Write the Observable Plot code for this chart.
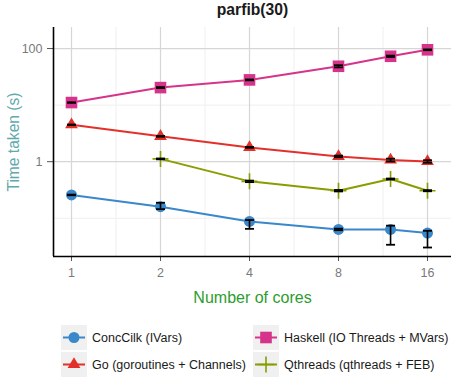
<!DOCTYPE html>
<html><head><meta charset="utf-8">
<script src="https://cdn.jsdelivr.net/npm/d3@7"></script>
<script src="https://cdn.jsdelivr.net/npm/@observablehq/plot@0.6"></script>
<style>
body{margin:0;background:#fff;font-family:"Liberation Sans",Arial,Helvetica,sans-serif;}
#wrap{position:relative;width:451px;height:378px;overflow:hidden;background:#fff;}
#chart{position:absolute;left:0;top:20px;}
.t{position:absolute;white-space:nowrap;}
#title{left:53px;width:399px;top:0px;text-align:center;font-weight:bold;font-size:15.7px;color:#1a1a1a;line-height:20px;}
#xt{left:53px;width:399px;top:288px;text-align:center;font-size:16px;color:#2e9c2e;line-height:20px;}
#yt{left:14px;top:141.5px;font-size:15.6px;color:#62a9ad;line-height:20px;transform:translate(-50%,-50%) rotate(-90deg);}
.lk{position:absolute;width:26px;height:25px;background:#f0f0f0;}
.lt{position:absolute;font-size:12.5px;color:#1a1a1a;line-height:16px;white-space:nowrap;}
</style></head><body><div id="wrap">
<div id="chart"></div>
<div class="t" id="title">parfib(30)</div>
<div class="t" id="xt">Number of cores</div>
<div class="t" id="yt">Time taken (s)</div>
</div>
<script>
// ---- data ----
const cores = [1, 2, 4, 8, 12, 16];
const seriesNames = ["ConcCilk (IVars)", "Go (goroutines + Channels)", "Haskell (IO Threads + MVars)", "Qthreads (qthreads + FEB)"];
const seriesColors = ["#3a88c9", "#e3302a", "#d6338a", "#8a9c00"];
const cilk     = [0.258, 0.160, 0.088, 0.0634, 0.0634, 0.0547];
const cilkLow  = [0.255, 0.145, 0.065, 0.0615, 0.034, 0.0304];
const cilkHigh = [0.262, 0.188, 0.093, 0.0655, 0.074, 0.060];
const go       = [4.50, 2.81, 1.79, 1.24, 1.07, 1.01];
const goLow    = [4.46, 2.76, 1.76, 1.20, 1.01, 0.96];
const goHigh   = [4.54, 2.86, 1.82, 1.28, 1.13, 1.06];
const haskell     = [11.1, 20.4, 27.9, 48.6, 73, 95];
const haskellLow  = [11.0, 20.0, 27.4, 46.5, 71, 93.5];
const haskellHigh = [11.2, 20.8, 28.4, 50.7, 75, 96.5];
const qth     = [null, 1.12, 0.449, 0.307, 0.494, 0.307];
const qthLow  = [null, 1.10, 0.435, 0.298, 0.484, 0.300];
const qthHigh = [null, 1.14, 0.463, 0.316, 0.504, 0.314];
const xTicks = [1, 2, 4, 8, 16];
const xMinor = [Math.SQRT2, 2 * Math.SQRT2, 4 * Math.SQRT2, 8 * Math.SQRT2];
const yTicks = [1, 100];
const yMinor = [0.1, 10];
const xDomain = [Math.pow(2, -18 / 89), Math.pow(2, 4 + 24 / 89)];
const yDomain = [Math.pow(10, -1.676), Math.pow(10, 2.372)];

// ---- symbols ----
const symCircle = {draw(c){ c.moveTo(5.5, 0); c.arc(0, 0, 5.5, 0, 2 * Math.PI); }};
const symTriangle = {draw(c){ c.moveTo(0, -7.2); c.lineTo(6.4, 3.6); c.lineTo(-6.4, 3.6); c.closePath(); }};
const symSquare = {draw(c){ c.rect(-5.8, -5.8, 11.6, 11.6); }};
const symPlus = {draw(c){ c.moveTo(-8, 0); c.lineTo(8, 0); c.moveTo(0, -8); c.lineTo(0, 8); }};
const symCap = {draw(c){ c.moveTo(-4.5, 0); c.lineTo(4.5, 0); }};

const series = [
  {vals: cilk, lo: cilkLow, hi: cilkHigh, sym: symCircle, filled: true},
  {vals: go, lo: goLow, hi: goHigh, sym: symTriangle, filled: true},
  {vals: haskell, lo: haskellLow, hi: haskellHigh, sym: symSquare, filled: true},
  {vals: qth, lo: qthLow, hi: qthHigh, sym: symPlus, filled: false}
].map((s, k) => ({...s, name: seriesNames[k], color: seriesColors[k],
  rows: cores.map((c, i) => ({cores: c, time: s.vals[i], low: s.lo[i], high: s.hi[i]})).filter(r => r.time != null)}));

const marks = [
  Plot.ruleX(xMinor, {stroke: "#efefef", strokeWidth: 1}),
  Plot.ruleY(yMinor, {stroke: "#efefef", strokeWidth: 1}),
  Plot.ruleX(xTicks, {stroke: "#d6d6d6", strokeWidth: 1.2}),
  Plot.ruleY(yTicks, {stroke: "#d6d6d6", strokeWidth: 1.2})
];
for (const s of series) {
  marks.push(Plot.line(s.rows, {x: "cores", y: "time", stroke: s.color, strokeWidth: 2}));
}
for (const s of series) {
  marks.push(Plot.dot(s.rows, s.filled
    ? {x: "cores", y: "time", symbol: s.sym, fill: s.color, stroke: "none", r: 5}
    : {x: "cores", y: "time", symbol: s.sym, fill: "none", stroke: s.color, strokeWidth: 1.6, r: 5}));
}
for (const s of series) {
  marks.push(Plot.ruleX(s.rows, {x: "cores", y1: "low", y2: "high", stroke: "#000", strokeWidth: 1.6}));
  marks.push(Plot.dot(s.rows, {x: "cores", y: "low", symbol: symCap, fill: "none", stroke: "#000", strokeWidth: 1.8, r: 5}));
  marks.push(Plot.dot(s.rows, {x: "cores", y: "high", symbol: symCap, fill: "none", stroke: "#000", strokeWidth: 1.8, r: 5}));
}
marks.push(
  Plot.axisX(xTicks, {tickSize: 5, tickPadding: 7, tickFormat: d => String(d), stroke: "#555", fill: "#7a7a7a", fontSize: 12.5, label: null}),
  Plot.axisY(yTicks, {tickSize: 6, tickPadding: 5, tickFormat: d => String(d), stroke: "#555", fill: "#7a7a7a", fontSize: 12.5, label: null}),
  Plot.ruleX([xDomain[0]], {stroke: "#000", strokeWidth: 1.6}),
  Plot.ruleY([yDomain[0]], {stroke: "#000", strokeWidth: 1.6})
);

const chart = Plot.plot({
  width: 451, height: 290,
  marginLeft: 53, marginRight: 0, marginTop: 7, marginBottom: 54,
  style: {fontFamily: '"Liberation Sans", Arial, sans-serif', background: "transparent", overflow: "visible"},
  x: {type: "log", base: 2, domain: xDomain},
  y: {type: "log", domain: yDomain, clamp: false},
  marks
});
document.getElementById("chart").appendChild(chart);

// ---- legend ----
const wrap = d3.select("#wrap");
const pos = [[61, 325], [61, 352], [253, 325], [253, 352]];
series.forEach((s, k) => {
  const [lx, ly] = pos[k];
  const key = wrap.append("div").attr("class", "lk").style("left", lx + "px").style("top", ly + "px");
  const svg = key.append("svg").attr("width", 26).attr("height", 25).style("display", "block");
  svg.append("line").attr("x1", 2).attr("x2", 24).attr("y1", 12.5).attr("y2", 12.5)
    .attr("stroke", s.color).attr("stroke-width", 2);
  svg.append("path").attr("transform", "translate(13,12.5)")
    .attr("d", d3.symbol(s.sym)())
    .attr("fill", s.filled ? s.color : "none")
    .attr("stroke", s.filled ? "none" : s.color).attr("stroke-width", 1.6);
  wrap.append("div").attr("class", "lt").text(s.name)
    .style("left", (lx + 31) + "px").style("top", (ly + 4.5) + "px");
});
</script>
</body></html>
